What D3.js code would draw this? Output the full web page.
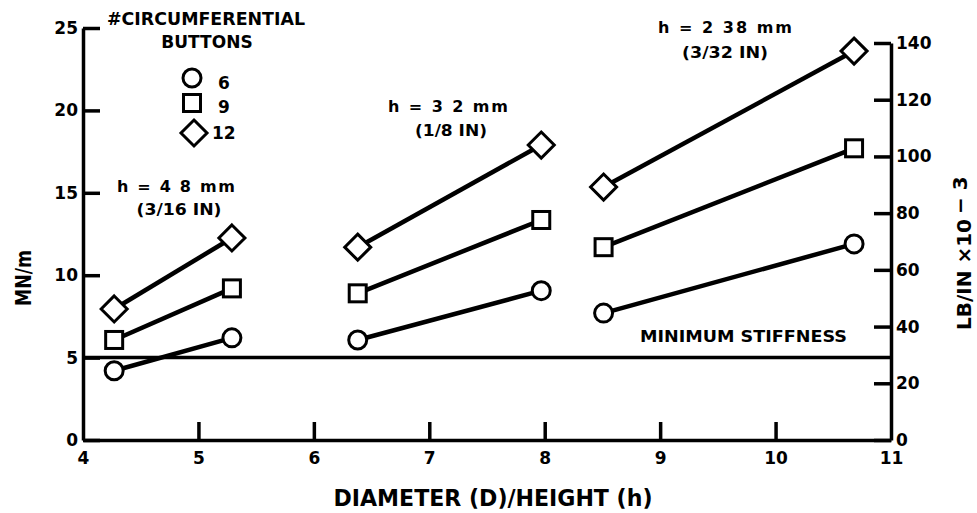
<!DOCTYPE html>
<html>
<head>
<script src="https://d3js.org/d3.v7.min.js"></script>
<style>
  body{margin:0;background:#fff}
  text{font-family:"DejaVu Sans",sans-serif;font-weight:bold;fill:#000}
  .axis path,.axis line{stroke:#000;stroke-width:3.5}
  .axis text{font-size:17px;font-family:"DejaVu Sans",sans-serif;font-weight:bold}
  .seg{fill:none;stroke:#000;stroke-width:4.5}
  .mark{fill:#fff;stroke:#000;stroke-width:3}
</style>
</head>
<body>
<script>
// D/h for each button height group
var dh=[[4.27,5.29],[6.38,7.97],[8.51,10.68]];
// stiffness MN/m, one pair per group
var buttons6=[[4.2,6.2],[6.07,9.06],[7.7,11.9]];
var buttons9=[[6.07,9.2],[8.9,13.35],[11.7,17.7]];
var buttons12=[[7.95,12.26],[11.7,17.9],[15.35,23.6]];
var legendLabels=["6","9","12"];
var heightLabels=[["h = 4 8 mm","(3/16 IN)"],["h = 3 2 mm","(1/8 IN)"],["h = 2 38 mm","(3/32 IN)"]];
var minStiffness=5;
var xTicks=[4,5,6,7,8,9,10,11];
var yTicks=[0,5,10,15,20,25];
var yRightTicks=[0,20,40,60,80,100,120,140];

var svg=d3.select("body").append("svg").attr("width",977).attr("height",513);

var x=d3.scaleLinear().domain([4,11]).range([83,891]);
var y=d3.scaleLinear().domain([0,25]).range([440,28]);
var yR=d3.scaleLinear().domain([0,140]).range([440,43]);

// axes
svg.append("g").attr("class","axis").attr("transform","translate(0,440)")
  .call(d3.axisBottom(x).tickValues(xTicks).tickSize(-18).tickSizeOuter(0).tickPadding(8).tickFormat(d3.format("d")))
  .call(function(g){g.selectAll(".tick text").attr("dy","0.95em")});
svg.append("g").attr("class","axis").attr("transform","translate(83,0)")
  .call(d3.axisLeft(y).tickValues(yTicks).tickSize(-17).tickSizeOuter(0).tickPadding(5));
svg.append("g").attr("class","axis").attr("transform","translate(891,0)")
  .call(d3.axisRight(yR).tickValues(yRightTicks).tickSize(-17).tickSizeOuter(0).tickPadding(5));
svg.selectAll(".axis").attr("fill",null).attr("font-family",null).attr("font-size",null);
// hide x ticks sitting on the y axes
svg.selectAll(".axis .tick line").filter(function(d){return d===4||d===11}).remove();

// minimum stiffness
svg.append("line").attr("x1",x(4)).attr("x2",x(11)).attr("y1",y(minStiffness)).attr("y2",y(minStiffness))
  .attr("stroke","#000").attr("stroke-width",3.5);
svg.append("text").attr("x",847).attr("y",342).attr("text-anchor","end")
  .attr("font-size",16).attr("textLength",207).attr("lengthAdjust","spacingAndGlyphs").text("MINIMUM STIFFNESS");

// series
var series=[{v:buttons6,s:"circle"},{v:buttons9,s:"square"},{v:buttons12,s:"diamond"}];
function shape(g,s,cx,cy){
  if(s==="circle") g.append("circle").attr("class","mark").attr("cx",cx).attr("cy",cy).attr("r",9);
  else if(s==="square") g.append("rect").attr("class","mark").attr("x",cx-8.5).attr("y",cy-8.5).attr("width",17).attr("height",17);
  else g.append("path").attr("class","mark").attr("d","M"+cx+","+(cy-13)+"L"+(cx+13)+","+cy+"L"+cx+","+(cy+13)+"L"+(cx-13)+","+cy+"Z");
}
var lines=svg.append("g"), marks=svg.append("g");
series.forEach(function(se){
  se.v.forEach(function(pair,i){
    var pts=pair.map(function(v,j){return [x(dh[i][j]),y(v)]});
    lines.append("path").attr("class","seg").attr("d",d3.line()(pts));
    pts.forEach(function(p){shape(marks,se.s,p[0],p[1])});
  });
});

// group annotations
var annPos=[[176,192,118,179,215,85],[448,112,120,451,136,72],[725,33,134,725,58,86]];
heightLabels.forEach(function(l,i){
  var p=annPos[i];
  svg.append("text").attr("x",p[0]).attr("y",p[1]).attr("text-anchor","middle").attr("font-size",16)
    .attr("textLength",p[2]).attr("lengthAdjust","spacing").text(l[0]);
  svg.append("text").attr("x",p[3]).attr("y",p[4]).attr("text-anchor","middle").attr("font-size",16)
    .attr("textLength",p[5]).attr("lengthAdjust","spacingAndGlyphs").text(l[1]);
});

// legend
svg.append("text").attr("x",206).attr("y",25).attr("text-anchor","middle").attr("font-size",17)
  .attr("textLength",198).attr("lengthAdjust","spacingAndGlyphs").text("#CIRCUMFERENTIAL");
svg.append("text").attr("x",207).attr("y",48).attr("text-anchor","middle").attr("font-size",17).text("BUTTONS");
var leg=[[192,78,218,83],[192,103,218,107],[194,133,212,133]];
series.forEach(function(se,i){
  var p=leg[i];
  shape(svg,se.s,p[0],p[1]);
  svg.append("text").attr("x",p[2]).attr("y",p[3]).attr("dominant-baseline","central").attr("font-size",17).text(legendLabels[i]);
});

// axis titles
svg.append("text").attr("x",493).attr("y",506).attr("text-anchor","middle").attr("font-size",23)
  .attr("textLength",319).attr("lengthAdjust","spacingAndGlyphs").text("DIAMETER (D)/HEIGHT (h)");
svg.append("text").attr("transform","translate(31,278) rotate(-90)").attr("text-anchor","middle").attr("font-size",21)
  .attr("textLength",56).attr("lengthAdjust","spacingAndGlyphs").text("MN/m");
var rt=svg.append("text").attr("transform","translate(971,330) rotate(-90)").attr("font-size",20);
rt.append("tspan").text("LB/IN  \u00d710");
rt.append("tspan").attr("dy",-4).attr("dx",5).text("\u2212 3");
</script>
</body>
</html>
